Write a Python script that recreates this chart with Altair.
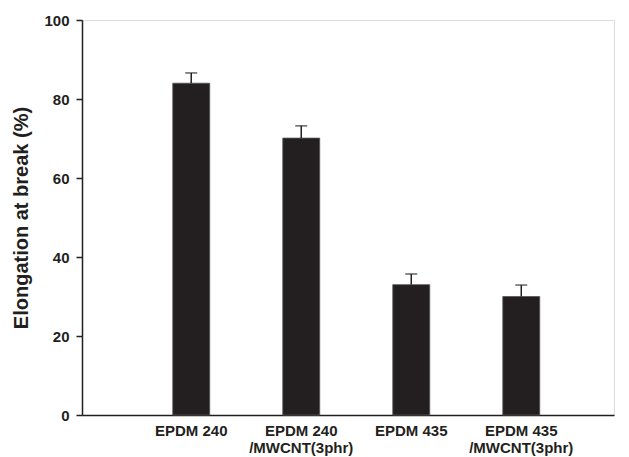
import altair as alt
import pandas as pd

categories = ["EPDM 240", "EPDM 240\n/MWCNT(3phr)", "EPDM 435", "EPDM 435\n/MWCNT(3phr)"]
values = [84.0, 70.1, 33.0, 30.0]
err_top = [86.6, 73.2, 35.7, 32.9]

df = pd.DataFrame({"cat": categories, "val": values, "err": err_top})

FONT = "Liberation Sans"
INK = "#231f20"

x = alt.X("cat:N", sort=categories, title=None,
          scale=alt.Scale(paddingInner=0.664, paddingOuter=0.75, align=0.55),
          axis=alt.Axis(labelAngle=0, ticks=False, labelExpr="split(datum.label, '\\n')",
                        labelFont=FONT, labelFontWeight="bold", labelFontSize=15,
                        labelColor=INK, labelPadding=8, labelLineHeight=17,
                        domainColor=INK, domainWidth=1.5, labelBaseline="top"))
y = alt.Y("val:Q", title="Elongation at break (%)",
          scale=alt.Scale(domain=[0, 100], nice=False),
          axis=alt.Axis(values=[0, 20, 40, 60, 80, 100], grid=False, tickSize=6,
                        tickColor=INK, tickWidth=1.5, domainColor=INK, domainWidth=1.5,
                        labelFont=FONT, labelFontWeight="bold", labelFontSize=15,
                        labelColor=INK, labelPadding=7,
                        titleFont=FONT, titleFontWeight="bold", titleFontSize=20,
                        titleColor=INK, titlePadding=12))

bars = alt.Chart(df).mark_bar(color=INK, stroke="#555555", strokeWidth=0.8).encode(x=x, y=y)
stems = alt.Chart(df).mark_rule(color=INK, strokeWidth=1.5).encode(
    x=alt.X("cat:N", sort=categories), y="val:Q", y2="err:Q")
caps = alt.Chart(df).mark_tick(color=INK, thickness=1.5, size=12).encode(
    x=alt.X("cat:N", sort=categories), y="err:Q")

chart = alt.layer(bars, stems, caps).properties(
    width=532, height=395,
    autosize=alt.AutoSizeParams(type="none"),
    padding={"left": 74, "top": 12, "right": 7, "bottom": 46},
).configure_view(stroke=INK, strokeWidth=1.5).configure(background="white")

chart.save("out.html", embed_options={"renderer": "svg", "actions": False})
